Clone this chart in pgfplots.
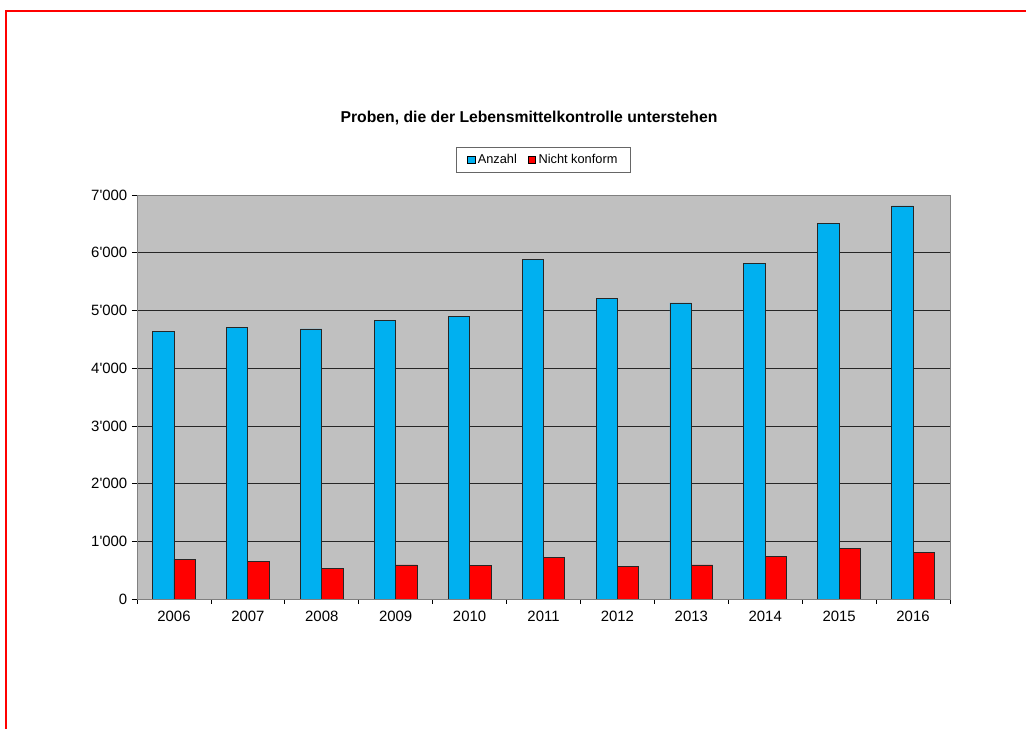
\documentclass[border=0pt]{standalone}
\usepackage{pgfplots}
\pgfplotsset{compat=1.18}
\usepackage{fontspec}
\setmainfont{Liberation Sans}
\newfontfamily\plainarial{Liberation Sans}
\definecolor{barblue}{RGB}{0,176,240}
\definecolor{barred}{RGB}{255,0,0}
\definecolor{plotgray}{RGB}{192,192,192}
\begin{document}
\begin{tikzpicture}
\useasboundingbox (0,0) rectangle (769.5pt,546.75pt);
\fill[white] (0,0) rectangle (769.5pt,546.75pt);
\draw[barred, line width=1.7pt] (4.5pt,-1pt) -- (4.5pt,538.5pt) -- (771pt,538.5pt);
\node[font=\bfseries\fontsize{11.8}{14}\selectfont] at (396.75pt,458.25pt) {Proben, die der Lebensmittelkontrolle unterstehen};
\begin{axis}[
  at={(102.75pt,97.5pt)}, anchor=south west,
  scale only axis, width=609.75pt, height=303pt,
  ybar=0pt, bar width=16pt,
  xmin=-0.5, xmax=10.5, ymin=0, ymax=7000,
  xtick={0,...,10},
  xticklabels={2006,2007,2008,2009,2010,2011,2012,2013,2014,2015,2016},
  minor xtick={-0.5,0.5,...,10.5},
  ytick={0,1000,...,7000},
  yticklabels={0,1'000,2'000,3'000,4'000,5'000,6'000,7'000},
  major x tick style={draw=none},
  tick align=outside,
  major tick length=3.75pt, minor tick length=3.75pt,
  xtick pos=bottom, ytick pos=left,
  tick style={black, line width=0.5pt},
  tick label style={font=\plainarial\fontsize{11.2}{13}\selectfont},
  xticklabel style={yshift=-2pt},
  ymajorgrids,
  grid style={black!85, line width=0.5pt},
  axis background/.style={fill=plotgray},
  axis line style={draw=black!50, line width=0.6pt},
  every axis plot post/.append style={
    legend image code/.code={\draw[##1, draw=black, line width=0.4pt] (0pt,-2.9pt) rectangle (5.8pt,2.9pt);}},
  legend style={at={(0.5,1.119)}, anchor=north, legend columns=2,
    draw=black!60, line width=0.5pt, fill=white,
    font=\plainarial\fontsize{9.6}{11.5}\selectfont,
    inner xsep=8pt, inner ysep=3.2pt,
    /tikz/every even column/.append style={column sep=6pt}},
  legend cell align=left,
]
\addplot[fill=barblue, draw=black!85, line width=0.6pt] coordinates {
  (0,4630) (1,4710) (2,4680) (3,4820) (4,4890) (5,5890)
  (6,5210) (7,5130) (8,5810) (9,6500) (10,6810)};
\addplot[fill=barred, draw=black!85, line width=0.6pt] coordinates {
  (0,690) (1,650) (2,530) (3,590) (4,575) (5,720)
  (6,560) (7,590) (8,745) (9,880) (10,810)};
\legend{Anzahl,Nicht konform}
\end{axis}
\end{tikzpicture}
\end{document}
